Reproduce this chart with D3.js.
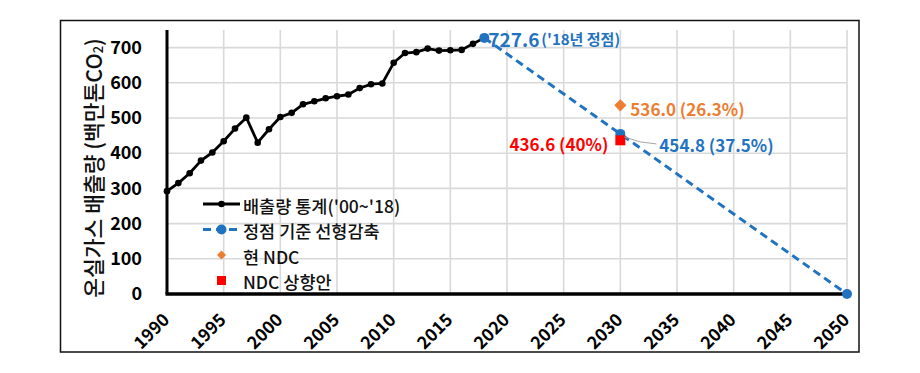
<!DOCTYPE html>
<html><head><meta charset="utf-8">
<script src="https://cdn.jsdelivr.net/npm/d3@7"></script>
<style>
html,body{margin:0;padding:0;background:#fff;}
svg{display:block;font-family:"Noto Sans CJK KR","Noto Sans",sans-serif;}
</style></head>
<body>
<svg id="chart" width="920" height="373"></svg>
<script>
// ---- data ----
const histYears = [1990,1991,1992,1993,1994,1995,1996,1997,1998,1999,2000,2001,2002,2003,2004,2005,2006,2007,2008,2009,2010,2011,2012,2013,2014,2015,2016,2017,2018];
const histValues = [292.2,315,343,379,402,434,470,501,430,468,502.7,514.6,539,547.5,556,561.8,566.7,584.9,596,598.2,656.8,684.6,687.1,697.2,691.5,692.3,693.5,710.7,727.6];
const pathYears = [2018,2030,2050];
const pathValues = [727.6,454.8,0];
const ndcYear = [2030];
const ndcValue = [536.0];
const ndcUpYear = [2030];
const ndcUpValue = [436.6];
const xTicks = [1990,1995,2000,2005,2010,2015,2020,2025,2030,2035,2040,2045,2050];
const yTicks = [0,100,200,300,400,500,600,700];
const seriesNames = ["배출량 통계('00~'18)","정점 기준 선형감축","현 NDC","NDC 상향안"];

const BLUE="#1f73c1", ORANGE="#ed7d31", RED="#ff0000";
const svg = d3.select("#chart");

// outer frame
svg.append("rect").attr("x",60.5).attr("y",20.5).attr("width",798.5).attr("height",331.5)
  .attr("fill","none").attr("stroke","#111").attr("stroke-width",1.5);

const x = d3.scaleLinear().domain([1990,2050]).range([167,847]);
const y = d3.scaleLinear().domain([0,750]).range([294,30]);

// gridlines
const g = svg.append("g");
g.selectAll("line.vg").data(xTicks).join("line")
  .attr("x1",d=>x(d)).attr("x2",d=>x(d)).attr("y1",y(750)).attr("y2",y(0))
  .attr("stroke","#d9d9d9").attr("stroke-width",1.6);
g.selectAll("line.hg").data(yTicks.filter(d=>d>0)).join("line")
  .attr("x1",x(1990)).attr("x2",x(2050)).attr("y1",d=>y(d)).attr("y2",d=>y(d))
  .attr("stroke","#d9d9d9").attr("stroke-width",1.6);

// axes
const yAx = svg.append("g").attr("transform",`translate(${x(1990)},0)`)
  .call(d3.axisLeft(y).tickValues(yTicks).tickSize(0).tickPadding(25).tickFormat(d3.format("d")));
yAx.select(".domain").remove();
yAx.selectAll("text").attr("font-size",18).attr("font-weight","bold").attr("fill","#000")
  .attr("font-family","'Noto Sans CJK KR',sans-serif");

const xAx = svg.append("g").attr("transform",`translate(0,${y(0)})`)
  .call(d3.axisBottom(x).tickValues(xTicks).tickSize(0).tickFormat(d3.format("d")));
xAx.select(".domain").remove();
xAx.selectAll("text")
  .attr("font-size",17.5).attr("font-weight","bold").attr("fill","#000")
  .attr("font-family","'Noto Sans CJK KR',sans-serif")
  .attr("text-anchor","end").attr("dy",null).attr("y",null)
  .attr("transform","translate(3,27) rotate(-45)");

// axis lines
svg.append("line").attr("x1",x(1990)).attr("x2",x(1990)).attr("y1",y(750)).attr("y2",y(0))
  .attr("stroke","#000").attr("stroke-width",3);
svg.append("line").attr("x1",x(1990)-1.5).attr("x2",x(2050)).attr("y1",y(0)).attr("y2",y(0))
  .attr("stroke","#000").attr("stroke-width",3.5);

// y title
const yt = svg.append("text").attr("transform",`translate(92,168) rotate(-90)`)
  .attr("text-anchor","middle").attr("dominant-baseline","central")
  .attr("font-size",21.5).attr("font-weight",500).attr("fill","#111");
yt.append("tspan").text("온실가스 배출량 (백만톤CO");
yt.append("tspan").attr("font-size",13).attr("dy",5).text("2");
yt.append("tspan").attr("dy",-5).text(")");

// historical line
const hist = histYears.map((d,i)=>[d,histValues[i]]);
svg.append("path").datum(hist)
  .attr("d",d3.line().x(d=>x(d[0])).y(d=>y(d[1])))
  .attr("fill","none").attr("stroke","#000").attr("stroke-width",2.8).attr("stroke-linejoin","round");
svg.selectAll("circle.h").data(hist).join("circle")
  .attr("cx",d=>x(d[0])).attr("cy",d=>y(d[1])).attr("r",3.3).attr("fill","#000");

// linear reduction path
const pth = pathYears.map((d,i)=>[d,pathValues[i]]);
svg.append("path").datum(pth)
  .attr("d",d3.line().x(d=>x(d[0])).y(d=>y(d[1])))
  .attr("fill","none").attr("stroke",BLUE).attr("stroke-width",3).attr("stroke-dasharray","8,5");
svg.selectAll("circle.p").data(pth).join("circle")
  .attr("cx",d=>x(d[0])).attr("cy",d=>y(d[1])).attr("r",5).attr("fill",BLUE);

// NDC diamond (rotated square)
svg.selectAll("rect.ndc").data(ndcYear.map((d,i)=>[d,ndcValue[i]])).join("rect")
  .attr("x",-4.3).attr("y",-4.3).attr("width",8.6).attr("height",8.6)
  .attr("transform",d=>`translate(${x(d[0])},${y(d[1])}) rotate(45)`).attr("fill",ORANGE);
// NDC raised square
svg.selectAll("rect.up").data(ndcUpYear.map((d,i)=>[d,ndcUpValue[i]])).join("rect")
  .attr("x",d=>x(d[0])-5).attr("y",d=>y(d[1])-5).attr("width",10).attr("height",10).attr("fill",RED);

// data labels
const lab = svg.append("g").attr("font-weight","bold");
const t1 = lab.append("text").attr("x",x(2018)+4).attr("y",y(727.6)).attr("dominant-baseline","central").attr("fill",BLUE);
t1.append("tspan").attr("font-size",19).text(d3.format(".1f")(pathValues[0]));
t1.append("tspan").attr("font-size",15).attr("dx",2).text("('18년 정점)");

lab.append("text").attr("x",x(2030)+10).attr("y",y(ndcValue[0])+3).attr("dominant-baseline","central")
  .attr("fill",ORANGE).attr("font-size",17).text(d3.format(".1f")(ndcValue[0])+" (26.3%)");
lab.append("text").attr("x",x(2030)-12).attr("y",y(ndcUpValue[0])+3).attr("dominant-baseline","central")
  .attr("text-anchor","end").attr("fill",RED).attr("font-size",17).text(d3.format(".1f")(ndcUpValue[0])+" (40%)");
svg.append("polyline").attr("points",`${x(2030)+4},${y(pathValues[1])+3} ${x(2030)+20},${y(pathValues[1])+8} ${x(2030)+36},${y(pathValues[1])+10}`)
  .attr("fill","none").attr("stroke","#a6a6a6").attr("stroke-width",1);
lab.append("text").attr("x",x(2030)+39).attr("y",y(pathValues[1])+11).attr("dominant-baseline","central")
  .attr("fill",BLUE).attr("font-size",17).text(d3.format(".1f")(pathValues[1])+" (37.5%)");

// legend
const lg = svg.append("g").attr("transform","translate(203,204)");
const rowH = 25.5;
lg.append("line").attr("x1",0).attr("x2",37).attr("y1",0).attr("y2",0).attr("stroke","#000").attr("stroke-width",2.8);
lg.append("circle").attr("cx",18.5).attr("cy",0).attr("r",3.3).attr("fill","#000");
lg.append("line").attr("x1",0).attr("x2",37).attr("y1",rowH).attr("y2",rowH).attr("stroke",BLUE).attr("stroke-width",3).attr("stroke-dasharray","8,5");
lg.append("circle").attr("cx",18.5).attr("cy",rowH).attr("r",5).attr("fill",BLUE);
lg.append("rect").attr("x",-3.2).attr("y",-3.2).attr("width",6.4).attr("height",6.4)
  .attr("transform",`translate(18.5,${rowH*2}) rotate(45)`).attr("fill",ORANGE);
lg.append("rect").attr("x",14).attr("y",rowH*3-4.5).attr("width",9).attr("height",9).attr("fill",RED);
lg.selectAll("text").data(seriesNames).join("text")
  .attr("x",40).attr("y",(d,i)=>i*rowH+1).attr("dominant-baseline","central")
  .attr("font-size",17.5).attr("font-weight",500).attr("fill","#111").text(d=>d);
</script>
</body></html>
